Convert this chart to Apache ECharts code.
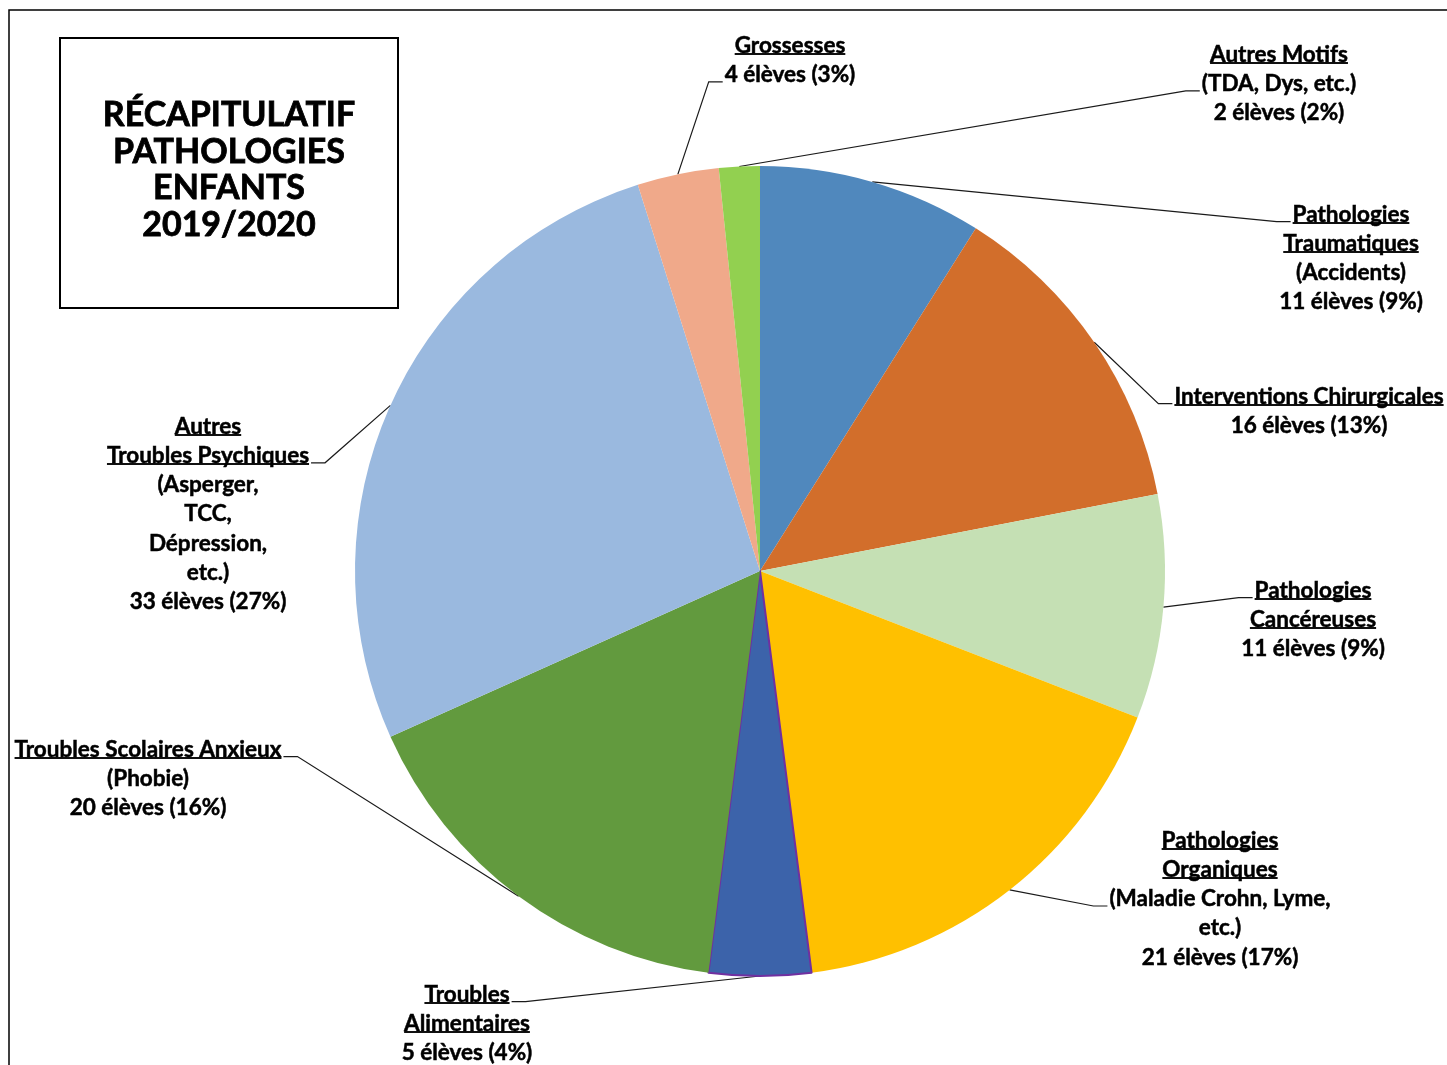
<!DOCTYPE html>
<html><head><meta charset="utf-8">
<script src="https://cdn.jsdelivr.net/npm/echarts@6/dist/echarts.min.js"></script>
<style>html,body{margin:0;padding:0;background:#fff}#c{width:1447px;height:1065px}</style>
</head><body><div id="c"></div><script>
// ---------- data ----------
const categories = ['Pathologies Traumatiques','Interventions Chirurgicales','Pathologies Cancéreuses','Pathologies Organiques','Troubles Alimentaires','Troubles Scolaires Anxieux','Autres Troubles Psychiques','Grossesses','Autres Motifs'];
const values = [11, 16, 11, 21, 5, 20, 33, 4, 2];
const percents = [9, 13, 9, 17, 4, 16, 27, 3, 2];
const headLines = [['Pathologies','Traumatiques'],['Interventions Chirurgicales'],['Pathologies','Cancéreuses'],['Pathologies','Organiques'],['Troubles','Alimentaires'],['Troubles Scolaires Anxieux'],['Autres','Troubles Psychiques'],['Grossesses'],['Autres Motifs']];
const detailLines = [['(Accidents)'],[],[],['(Maladie Crohn, Lyme,','etc.)'],[],['(Phobie)'],['(Asperger,','TCC,','Dépression,','etc.)'],[],['(TDA, Dys, etc.)']];
const titleText = 'RÉCAPITULATIF\nPATHOLOGIES\nENFANTS\n2019/2020';

// ---------- styles / layout ----------
const colors = ['#5088BD','#D26E2B','#C5E0B4','#FFC000','#3C63AA','#629A3E','#9AB9DF','#F0A98A','#92D050'];
const FONT = 'Lato';
const FS = 22.5, LH = 29.2;
const CX = 760, CY = 571, R = 405;
// [centerX, top, connecting line index, side (1: label right of pie, -1: left)]
const labelPos = [[1351,200,0,1],[1309,382,0,1],[1313,576,0,1],[1220,826,2,1],[467,980,0,-1],[148,735,0,-1],[208,412,1,-1],[790,31,1,1],[1279,40,1,1]];

const total = values.reduce((a,b)=>a+b,0);
const cvs = document.createElement('canvas').getContext('2d');
cvs.font = 'bold ' + FS + 'px ' + FONT;
function linesOf(i){
  const l = headLines[i].map(t=>({t,u:true}));
  detailLines[i].forEach(t=>l.push({t,u:false}));
  l.push({t: values[i] + ' élèves (' + percents[i] + '%)', u:false});
  return l;
}
const ul = new echarts.graphic.LinearGradient(0,0,0,1,[
  {offset:0,color:'rgba(0,0,0,0)'},{offset:0.81,color:'rgba(0,0,0,0)'},
  {offset:0.81,color:'#111'},{offset:0.89,color:'#111'},
  {offset:0.89,color:'rgba(0,0,0,0)'},{offset:1,color:'rgba(0,0,0,0)'}]);
const baseTok = {fontFamily:FONT,fontSize:FS,fontWeight:'bold',color:'#000',lineHeight:LH,align:'center',textBorderColor:'#000',textBorderWidth:0.5};

const chart = echarts.init(document.getElementById('c'), null, {renderer:'canvas'});
chart.setOption({
  animation:false,
  backgroundColor:'#fff',
  graphic:[
    {type:'rect', shape:{x:9,y:10,width:1600,height:1200}, style:{fill:'none',stroke:'#000',lineWidth:1.5}, silent:true},
    {type:'rect', shape:{x:60,y:38,width:338,height:270}, style:{fill:'#fff',stroke:'#000',lineWidth:2}, silent:true},
    {type:'text', x:229, y:170, style:{text:titleText, font:'bold 34px ' + FONT, fill:'#000', stroke:'#000', lineWidth:0.8, align:'center', verticalAlign:'middle', lineHeight:36.7}, silent:true}
  ],
  series:[{
    type:'pie',
    center:[CX,CY], radius:R,
    startAngle:90, clockwise:true,
    avoidLabelOverlap:false,
    data: categories.map((c,i)=>({name:c, value:values[i],
      itemStyle: i===4 ? {color:colors[i], borderColor:'#7030A0', borderWidth:2} : {color:colors[i]}})),
    label:{
      show:true, position:'outside',
      formatter:(p)=>linesOf(p.dataIndex).map(l=>'{'+(l.u?'u':'n')+'|'+l.t+'}').join('\n'),
      rich:{
        u:Object.assign({}, baseTok, {height:24, backgroundColor:ul}),
        n:Object.assign({}, baseTok)
      }
    },
    labelLine:{show:true, lineStyle:{color:'#1a1a1a', width:1.2}},
    labelLayout:(params)=>{
      const i = params.dataIndex;
      const [lx, top, idx, side] = labelPos[i];
      const lines = linesOf(i);
      const w = cvs.measureText(lines[idx].t).width;
      const ey = top + LH*(idx+0.5) + 7;
      const ex = side > 0 ? lx - w/2 - 2 : lx + w/2 + 2;
      const bx = ex - side*14;
      let cum = 0; for (let k=0;k<i;k++) cum += values[k];
      const th = (cum + values[i]/2)/total*2*Math.PI;
      const sx = CX + R*Math.sin(th), sy = CY - R*Math.cos(th);
      return {x:lx, y:top, align:'center', verticalAlign:'top', labelLinePoints:[[sx,sy],[bx,ey],[ex,ey]]};
    },
    emphasis:{disabled:true}
  }]
});
</script></body></html>
